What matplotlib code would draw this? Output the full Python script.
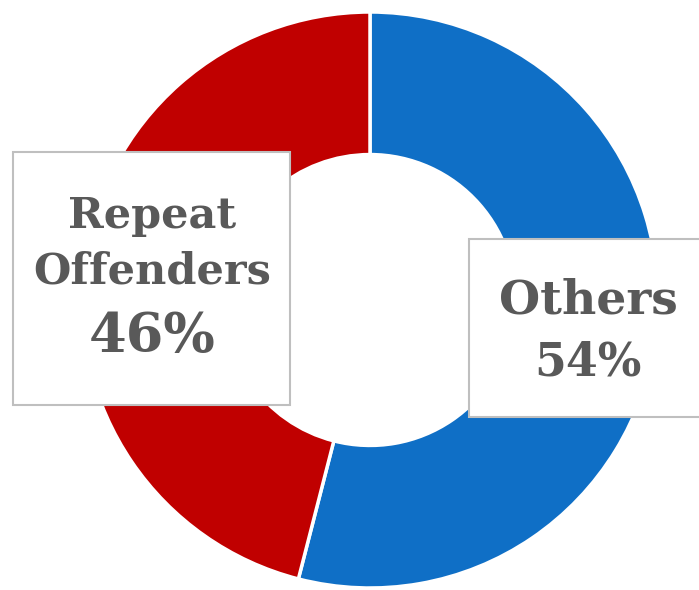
import matplotlib
matplotlib.use("Agg")
import matplotlib.pyplot as plt
from matplotlib.patches import Rectangle

# data
labels = ["Others", "Repeat\nOffenders"]
shares = [54, 46]
colors = ["#0F6FC6", "#C00000"]

W, H = 699, 590
fig = plt.figure(figsize=(W / 100, H / 100), dpi=100)
ax = fig.add_axes([0, 0, 1, 1])

cx, cy, r = 370, H - 300, 288
ax.pie(shares, colors=colors, startangle=90, counterclock=False,
       center=(cx, cy), radius=r, frame=True,
       wedgeprops=dict(width=r * 0.495, edgecolor="white", linewidth=2.5))
ax.set_xlim(0, W)
ax.set_ylim(0, H)
ax.set_aspect("equal")
ax.axis("off")

txt = "#595959"
font = "DejaVu Serif"

# label boxes (pixel coords, y from top)
def box(x0, y0, x1, y1):
    ax.add_patch(Rectangle((x0, H - y1), x1 - x0, y1 - y0, facecolor="white",
                           edgecolor="#BFBFBF", linewidth=1.5, zorder=5))

box(13, 152, 290, 405)
box(469, 239, 705, 417)

ax.text(152, H - 216, "Repeat", ha="center", va="center", fontsize=31,
        fontweight="bold", color=txt, family=font, zorder=6)
ax.text(152, H - 271, "Offenders", ha="center", va="center", fontsize=31,
        fontweight="bold", color=txt, family=font, zorder=6)
ax.text(152, H - 337, f"{shares[1]}%", ha="center", va="center", fontsize=39,
        fontweight="bold", color=txt, family=font, zorder=6)

ax.text(588, H - 300, "Others", ha="center", va="center", fontsize=34,
        fontweight="bold", color=txt, family=font, zorder=6)
ax.text(588, H - 363, f"{shares[0]}%", ha="center", va="center", fontsize=33,
        fontweight="bold", color=txt, family=font, zorder=6)

fig.savefig("out.png", dpi=100)
